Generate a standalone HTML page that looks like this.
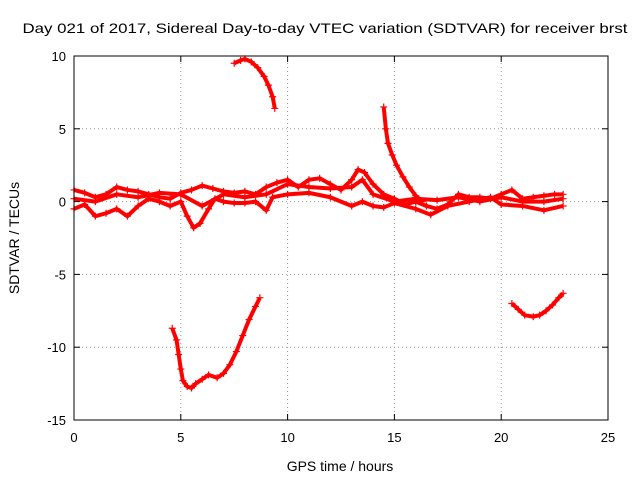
<!DOCTYPE html>
<html><head><meta charset="utf-8"><style>
body{margin:0;background:#fff}
svg{display:block;font-family:"Liberation Sans",sans-serif}
</style></head><body>
<svg id="chart" width="640" height="480">
<text x="325" y="33" text-anchor="middle" font-size="14" textLength="605" lengthAdjust="spacingAndGlyphs">Day 021 of 2017, Sidereal Day-to-day VTEC variation (SDTVAR) for receiver brst</text>
<g id="grid"></g>
<g id="axes"></g>
<g id="series"></g>
<rect x="74" y="56" width="534" height="364" fill="none" stroke="#000"/>
<text x="340" y="471" text-anchor="middle" font-size="14">GPS time / hours</text>
<text transform="translate(19,238) rotate(-90)" text-anchor="middle" font-size="14">SDTVAR / TECUs</text>
</svg>
<script>
const xTicks=[0,5,10,15,20,25];
const yTicks=[10,5,0,-5,-10,-15];
const topArc=[[7.5,9.5],[7.8,9.7],[8.0,9.8],[8.3,9.6],[8.6,9.2],[8.9,8.6],[9.1,8.0],[9.3,7.2],[9.4,6.4]];
const bottomArc=[[4.6,-8.7],[4.8,-9.5],[4.9,-10.5],[5.0,-11.5],[5.1,-12.3],[5.3,-12.7],[5.5,-12.8],[5.7,-12.5],[6.0,-12.2],[6.3,-11.9],[6.7,-12.1],[7.0,-11.8],[7.3,-11.2],[7.6,-10.3],[7.9,-9.2],[8.2,-8.1],[8.5,-7.2],[8.7,-6.6]];
const spike=[[14.5,6.5],[14.6,5.0],[14.7,4.0],[14.9,3.2],[15.1,2.5],[15.4,1.7],[15.7,1.0],[16.0,0.4],[16.3,0.0]];
const rightArc=[[20.5,-7.0],[20.8,-7.4],[21.1,-7.8],[21.5,-7.9],[21.8,-7.8],[22.1,-7.5],[22.4,-7.1],[22.7,-6.6],[22.9,-6.3]];
const bandUpper=[[0,0.8],[0.5,0.6],[1,0.3],[1.5,0.5],[2,1.0],[2.5,0.8],[3,0.7],[3.5,0.5],[4,0.3],[4.5,0.2],[5,0.6],[5.5,0.8],[6,1.1],[6.5,0.9],[7,0.7],[7.5,0.6],[8,0.7],[8.5,0.5],[9,1.0],[9.5,1.3],[10,1.5],[10.5,1.0],[11,1.5],[11.5,1.6],[12,1.2],[12.5,0.8],[13,1.5],[13.3,2.2],[13.6,2.0],[14,1.2],[14.5,0.5],[15,0.2],[15.5,-0.2],[16,0.0],[16.5,-0.3],[17,-0.5],[17.5,-0.2],[18,0.5],[18.5,0.3],[19,0.3],[19.5,0.2],[20,0.5],[20.5,0.8],[21,0.2],[21.5,0.3],[22,0.4],[22.5,0.5],[22.9,0.5]];
const bandLower=[[0,-0.5],[0.5,-0.2],[1,-1.0],[1.5,-0.8],[2,-0.5],[2.5,-1.0],[3,-0.3],[3.5,0.2],[4,0.0],[4.5,-0.3],[5,0.0],[5.3,-1.0],[5.6,-1.8],[5.9,-1.5],[6.3,-0.5],[6.6,0.2],[7,0.0],[7.5,-0.1],[8,-0.1],[8.5,0.0],[9,-0.6],[9.3,0.3],[10,0.5],[11,0.6],[12,0.3],[13,-0.3],[13.5,0.0],[14,-0.3],[14.5,-0.4],[15,-0.1],[16,-0.5],[16.7,-0.9],[17.5,-0.3],[18.5,0.0],[19.5,0.3],[20,-0.2],[21,-0.3],[22,-0.6],[22.9,-0.3]];
const bandMiddle=[[0,0.2],[1,0.0],[2,0.5],[3,0.3],[4,0.6],[5,0.5],[6,-0.3],[7,0.5],[8,0.3],[9,0.5],[10,1.2],[11,1.0],[12,0.9],[13,1.0],[13.5,1.5],[14,0.5],[15,0.0],[16,0.2],[17,0.1],[18,0.3],[19,0.0],[20,0.3],[21,0.0],[22,0.0],[22.9,0.2]];
const NS="http://www.w3.org/2000/svg";
const X0=74,X1=608,Y0=420,Y1=56;
function sx(v){return X0+(v-0)/(25-0)*(X1-X0);}
function sy(v){return Y0-(v+15)/(10+15)*(Y0-Y1);}
function mk(t,a,p){const e=document.createElementNS(NS,t);for(const k in a)e.setAttribute(k,a[k]);p.appendChild(e);return e;}
const grid=document.getElementById('grid'),axes=document.getElementById('axes'),ser=document.getElementById('series');
xTicks.forEach(t=>{const x=sx(t);
 if(t>0&&t<25){const l=mk('line',{x1:x,x2:x,y1:Y0,y2:Y1,stroke:'#999','stroke-dasharray':'1,3'},grid);
 
 }
 mk('line',{x1:x,x2:x,y1:Y0,y2:Y0-6,stroke:'#000'},axes);
 mk('line',{x1:x,x2:x,y1:Y1,y2:Y1+6,stroke:'#000'},axes);
 const tx=mk('text',{x:x,y:Y0+22,'text-anchor':'middle','font-size':13},axes);tx.textContent=t;
 
 });
yTicks.forEach(t=>{const y=sy(t);
 if(t>-15&&t<10){const l=mk('line',{x1:X0,x2:X1,y1:y,y2:y,stroke:'#999','stroke-dasharray':'1,3'},grid);
 
 }
 mk('line',{x1:X0,x2:X0+6,y1:y,y2:y,stroke:'#000'},axes);
 mk('line',{x1:X1,x2:X1-6,y1:y,y2:y,stroke:'#000'},axes);
 const tx=mk('text',{x:X0-8,y:y+5,'text-anchor':'end','font-size':13},axes);tx.textContent=t;
 
 });
const allSeries=[["top-arc",topArc],["bottom-arc",bottomArc],["spike",spike],["right-arc",rightArc],["band-upper",bandUpper],["band-lower",bandLower],["band-middle",bandMiddle]];
allSeries.forEach(([name,pts])=>{
 const g=mk('g',{},ser);
 
 
 mk('polyline',{points:pts.map(p=>sx(p[0])+','+sy(p[1])).join(' '),fill:'none',stroke:'#f00','stroke-width':4,'stroke-linejoin':'round'},g);
 pts.forEach(p=>{const x=sx(p[0]),y=sy(p[1]);
  const m=mk('path',{d:`M${x-3.5},${y}H${x+3.5}M${x},${y-3.5}V${y+3.5}`,stroke:'#f00','stroke-width':1.2},g);
  
  });
});
</script>
</body></html>
